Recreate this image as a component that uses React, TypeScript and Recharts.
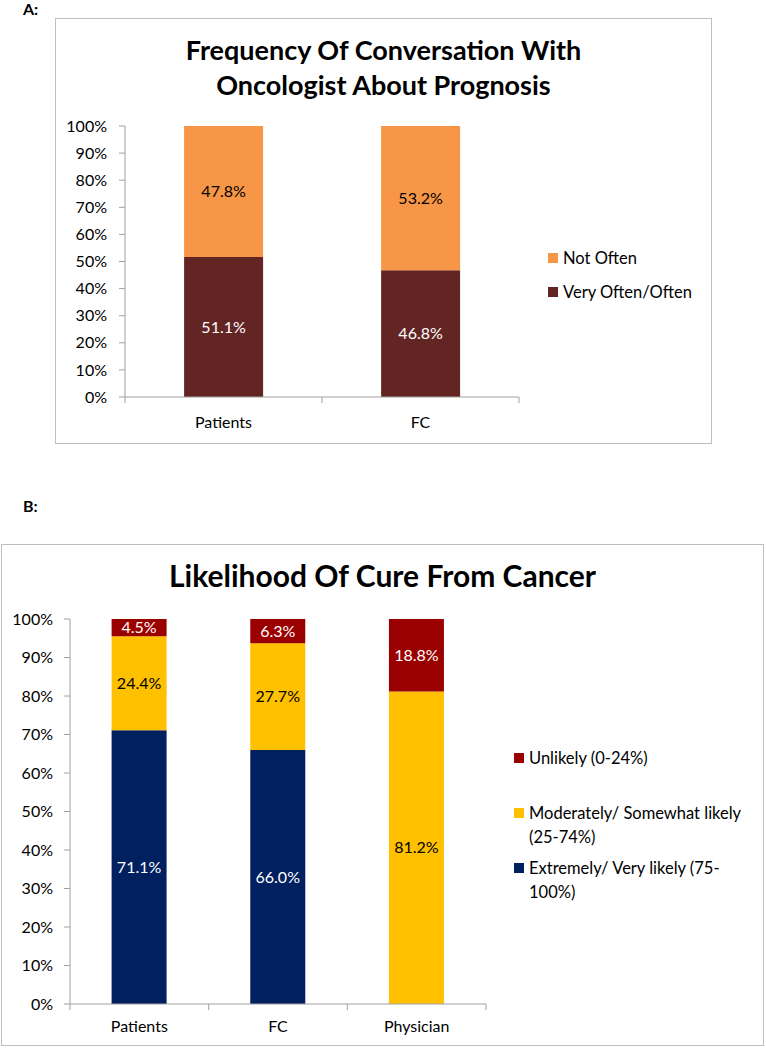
import React from 'react';
import { BarChart, Bar, XAxis, YAxis, LabelList, Legend } from 'recharts';

// ---------- Panel A data ----------
const groupsA = ['Patients', 'FC'];
const veryOftenA = [51.1, 46.8];
const notOftenA = [47.8, 53.2];
const seriesA = [
  { key: 'notOften', name: 'Not Often', color: '#F79646' },
  { key: 'veryOften', name: 'Very Often/Often', color: '#632523' },
];
const titleA = ['Frequency Of Conversation With', 'Oncologist About Prognosis'];

// ---------- Panel B data ----------
const groupsB = ['Patients', 'FC', 'Physician'];
const extremelyB = [71.1, 66.0, 0];
const moderatelyB = [24.4, 27.7, 81.2];
const unlikelyB = [4.5, 6.3, 18.8];
const seriesB = [
  { key: 'unlikely', name: 'Unlikely (0-24%)', color: '#9B0000' },
  { key: 'moderately', name: 'Moderately/ Somewhat likely\n(25-74%)', color: '#FFC000' },
  { key: 'extremely', name: 'Extremely/ Very likely (75-\n100%)', color: '#002060' },
];
const titleB = 'Likelihood Of Cure From Cancer';

// ---------- shared ----------
const yTickPercents = [0, 10, 20, 30, 40, 50, 60, 70, 80, 90, 100];
const yTicks = yTickPercents.map((p) => p / 100);

const dataA = groupsA.map((g, i) => ({ group: g, veryOften: veryOftenA[i], notOften: notOftenA[i] }));
const dataB = groupsB.map((g, i) => ({
  group: g,
  extremely: extremelyB[i],
  moderately: moderatelyB[i],
  unlikely: unlikelyB[i],
}));

const AXIS = '#A0A0A0';
const FONT = 'Lato, "Open Sans", "DejaVu Sans", sans-serif';

const fmtPct = (v: any) => (typeof v === 'number' && v > 0 ? `${v.toFixed(1)}%` : '');

const makeCategoryTick = (count: number, labelDy: number) => (props: any) => {
  const { x, y, payload, index } = props;
  const half = payload && typeof payload.offset === 'number' ? payload.offset : 0;
  return (
    <g>
      <line x1={x - half} x2={x - half} y1={y} y2={y + 6} stroke={AXIS} />
      {index === count - 1 ? <line x1={x + half} x2={x + half} y1={y} y2={y + 6} stroke={AXIS} /> : null}
      <text x={x} y={y + labelDy} textAnchor="middle" dominantBaseline="central" fill="#000" fontSize={16}>
        {payload.value}
      </text>
    </g>
  );
};

const makeLegend = (items: { name: string; color: string }[], tops: number[]) => () => (
  <div style={{ position: 'relative', width: 250, height: 160, fontFamily: FONT }}>
    {items.map((it, i) => (
      <div key={it.name} style={{ position: 'absolute', left: 0, top: tops[i], width: 250 }}>
        <div style={{ position: 'absolute', left: 0, top: 7, width: 10, height: 10, background: it.color }} />
        <div style={{ marginLeft: 15, fontSize: 16.5, lineHeight: '24px', whiteSpace: 'pre-line', color: '#000' }}>
          {it.name}
        </div>
      </div>
    ))}
  </div>
);

const yAxisCommon = {
  type: 'number' as const,
  domain: [0, 1] as [number, number],
  ticks: yTicks,
  interval: 0 as const,
  tickFormatter: (v: number) => `${Math.round(v * 100)}%`,
  tickSize: 6,
  axisLine: { stroke: AXIS },
  tickLine: { stroke: AXIS },
  tick: { fill: '#000', fontSize: 16 },
};

export default function App() {
  return (
    <div style={{ position: 'absolute', left: 0, top: 0, width: 766, height: 1050, background: '#fff', fontFamily: FONT }}>
      {/* Panel A */}
      <div style={{ position: 'absolute', left: 23, top: 0, fontSize: 16, lineHeight: '18px', fontWeight: 700, color: '#000' }}>A:</div>
      <div style={{ position: 'absolute', left: 55, top: 18, width: 657, height: 426, boxSizing: 'border-box', border: '1px solid #BFBFBF' }} />
      <div style={{ position: 'absolute', left: 55, top: 32, width: 657, textAlign: 'center', fontSize: 27, fontWeight: 700, lineHeight: '35px', color: '#000' }}>
        {titleA.map((t) => (
          <div key={t}>{t}</div>
        ))}
      </div>
      <div style={{ position: 'absolute', left: 55, top: 18 }}>
        <BarChart
          width={656}
          height={425}
          data={dataA}
          stackOffset="expand"
          barCategoryGap="30%"
          margin={{ top: 108, right: 192, bottom: 16, left: 0 }}
        >
          <YAxis {...yAxisCommon} width={70} tickMargin={12} />
          <XAxis
            dataKey="group"
            height={30}
            interval={0}
            tickLine={false}
            tickSize={0}
            tickMargin={0}
            axisLine={{ stroke: AXIS }}
            tick={makeCategoryTick(groupsA.length, 24)}
          />
          <Bar dataKey="veryOften" name={seriesA[1].name} stackId="a" fill={seriesA[1].color} isAnimationActive={false}>
            <LabelList dataKey="veryOften" position="center" formatter={fmtPct} fill="#FFFFFF" stroke="none" fontSize={16} />
          </Bar>
          <Bar dataKey="notOften" name={seriesA[0].name} stackId="a" fill={seriesA[0].color} isAnimationActive={false}>
            <LabelList dataKey="notOften" position="center" formatter={fmtPct} fill="#000000" stroke="none" fontSize={16} />
          </Bar>
          <Legend
            layout="vertical"
            align="center"
            verticalAlign="middle"
            wrapperStyle={{ left: 493, top: 226, width: 250, height: 160 }}
            content={makeLegend(seriesA, [2, 36])}
          />
        </BarChart>
      </div>

      {/* Panel B */}
      <div style={{ position: 'absolute', left: 23, top: 497, fontSize: 16, lineHeight: '18px', fontWeight: 700, color: '#000' }}>B:</div>
      <div style={{ position: 'absolute', left: 1, top: 544, width: 763, height: 502, boxSizing: 'border-box', border: '1px solid #BFBFBF' }} />
      <div style={{ position: 'absolute', left: 1, top: 557, width: 763, textAlign: 'center', fontSize: 30, fontWeight: 700, lineHeight: '36px', color: '#000' }}>
        {titleB}
      </div>
      <div style={{ position: 'absolute', left: 1, top: 544 }}>
        <BarChart
          width={762}
          height={502}
          data={dataB}
          stackOffset="expand"
          barCategoryGap="30%"
          margin={{ top: 75, right: 277, bottom: 12, left: 0 }}
        >
          <YAxis {...yAxisCommon} width={69} tickMargin={11} />
          <XAxis
            dataKey="group"
            height={30}
            interval={0}
            tickLine={false}
            tickSize={0}
            tickMargin={0}
            axisLine={{ stroke: AXIS }}
            tick={makeCategoryTick(groupsB.length, 21)}
          />
          <Bar dataKey="extremely" name="Extremely/ Very likely (75-100%)" stackId="b" fill={seriesB[2].color} isAnimationActive={false}>
            <LabelList dataKey="extremely" position="center" formatter={fmtPct} fill="#FFFFFF" stroke="none" fontSize={16} />
          </Bar>
          <Bar dataKey="moderately" name="Moderately/ Somewhat likely (25-74%)" stackId="b" fill={seriesB[1].color} isAnimationActive={false}>
            <LabelList dataKey="moderately" position="center" formatter={fmtPct} fill="#000000" stroke="none" fontSize={16} />
          </Bar>
          <Bar dataKey="unlikely" name="Unlikely (0-24%)" stackId="b" fill={seriesB[0].color} isAnimationActive={false}>
            <LabelList dataKey="unlikely" position="center" formatter={fmtPct} fill="#FFFFFF" stroke="none" fontSize={16} />
          </Bar>
          <Legend
            layout="vertical"
            align="center"
            verticalAlign="middle"
            wrapperStyle={{ left: 513, top: 200, width: 250, height: 160 }}
            content={makeLegend(seriesB, [2, 57, 112])}
          />
        </BarChart>
      </div>
    </div>
  );
}
